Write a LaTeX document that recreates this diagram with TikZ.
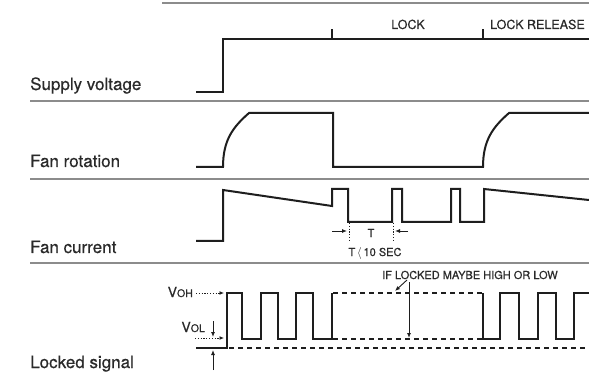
\documentclass[tikz,border=0pt]{standalone}
\usepackage{fontspec}
\setmainfont{TeX Gyre Heros}
\newfontfamily\medfont[BoldFont={TeX Gyre Heros},BoldFeatures={FakeBold=0.5}]{TeX Gyre Heros}
\usetikzlibrary{arrows.meta}
\definecolor{sigc}{HTML}{1E1E1E}
\definecolor{sepc}{HTML}{8C8C8C}
\definecolor{txtc}{HTML}{2A2A2A}
\begin{document}
\begin{tikzpicture}[x=1pt,y=-1pt,
  sig/.style={line width=2pt,draw=sigc,line join=miter},
  sep/.style={line width=1.4pt,draw=sepc},
  dsh/.style={sig,dash pattern=on 5pt off 4pt},
  lbl/.style={font=\medfont\bfseries\fontsize{17}{19}\selectfont,text=txtc,anchor=base west,inner sep=0},
  sml/.style={font=\medfont\bfseries\fontsize{12.5}{14}\selectfont,text=txtc,inner sep=0},
  tiny/.style={font=\medfont\bfseries\fontsize{11}{13}\selectfont,text=txtc,inner sep=0},
  dotarr/.style={line width=0.9pt,draw=sigc,dash pattern=on 1.2pt off 1.6pt,-{Latex[length=4.5pt,width=4pt]}},
  arr/.style={line width=0.9pt,draw=sigc,-{Latex[length=5pt,width=4pt]}},
  dotln/.style={line width=0.9pt,draw=sigc,dash pattern=on 1.2pt off 1.6pt}]
\useasboundingbox (0,0) rectangle (589,374);
\fill[white] (0,0) rectangle (589,374);

% separators
\draw[sep] (162,3) -- (589,3);
\draw[sep] (30,101) -- (589,101);
\draw[sep] (30,179) -- (589,179);
\draw[sep] (30,263) -- (589,263);

% labels
\node[lbl] (lsv) at (30,90) {Supply voltage};
\node[lbl] (lfr) at (30,167) {Fan rotation};
\node[lbl] (lfc) at (30,253) {Fan current};
\node[lbl] (lls) at (30,368) {Locked signal};

% supply voltage
\draw[sig] (196,92) -- (223,92) -- (223,39) -- (589,39);
\draw[sig] (332,39) -- (332,29);
\draw[sig] (483,39) -- (483,29);
\node[sml,anchor=base] (tlock) at (408,29) {LOCK};
\node[sml,anchor=base west] (trel) at (490,29) {LOCK RELEASE};

% fan rotation
\draw[sig] (196,167) -- (223,167) .. controls (223,140) and (233,127) .. (249,113)
  -- (333,113) -- (333,167) -- (483,167) .. controls (483,140) and (493,127) .. (509,113) -- (589,113);

% fan current
\draw[sig] (196,241) -- (223,241) -- (223,190) -- (332,206) -- (332,189) -- (348,189)
  -- (348,222) -- (392,222) -- (392,189) -- (402,189) -- (402,222) -- (451,222)
  -- (451,189) -- (460,189) -- (460,222) -- (484,222) -- (484,189) -- (589,200);
\coordinate (ta) at (349,223);
\coordinate (tb) at (393,223);
\draw[dotln] (ta) -- (349,240);
\draw[dotln] (tb) -- (393,240);
\coordinate (tal) at (332,231);
\coordinate (tbr) at (408,231);
\draw[arr] (tal) -- (347,231);
\draw[arr] (tbr) -- (395,231);
\node[tiny,anchor=base] (tT) at (371,237) {T};
\node[tiny,anchor=base] (tT10) at (375,256) {T\,{\fontsize{12}{12}\selectfont$\langle$}\,10 SEC};

% locked signal
\draw[sig] (196,348) -- (227,348) -- (227,293) -- (242,293) -- (242,339) -- (261,339)
  -- (261,293) -- (278,293) -- (278,339) -- (296,339) -- (296,293) -- (313,293)
  -- (313,339) -- (332,339) -- (332,293);
\draw[dsh] (333,293) -- (483,293);
\draw[dsh] (333,339) -- (483,339);
\draw[dsh] (229,348) -- (589,348);
\draw[sig] (483,293) -- (483,339) -- (500,339) -- (500,293) -- (519,293) -- (519,339)
  -- (538,339) -- (538,293) -- (556,293) -- (556,339) -- (574,339) -- (574,293) -- (589,293);

\node[anchor=base east,inner sep=0,text=txtc,font=\medfont\bfseries] (voh) at (193,297)
  {{\fontsize{14}{15}\selectfont V}{\fontsize{10.5}{11}\selectfont OH}};
\node[anchor=base east,inner sep=0,text=txtc,font=\medfont\bfseries] (vol) at (205,332)
  {{\fontsize{14}{15}\selectfont V}{\fontsize{10.5}{11}\selectfont OL}};
\draw[dotarr] (196,293) coordinate (vohs) -- (224,293);
\draw[dotarr] (195,338) coordinate (vols) -- (224,338);
\draw[arr] (213,321) coordinate (vola) -- (213,337);
\draw[arr] (213,370) coordinate (gnd) -- (213,350);

\node[tiny,anchor=base west] (tif) at (382,279) {IF LOCKED MAYBE HIGH OR LOW};
\coordinate (ifa) at (407,280);
\draw[arr] (ifa) -- (395,291);
\draw[arr] (409,282) -- (409,338);
\end{tikzpicture}
\end{document}
